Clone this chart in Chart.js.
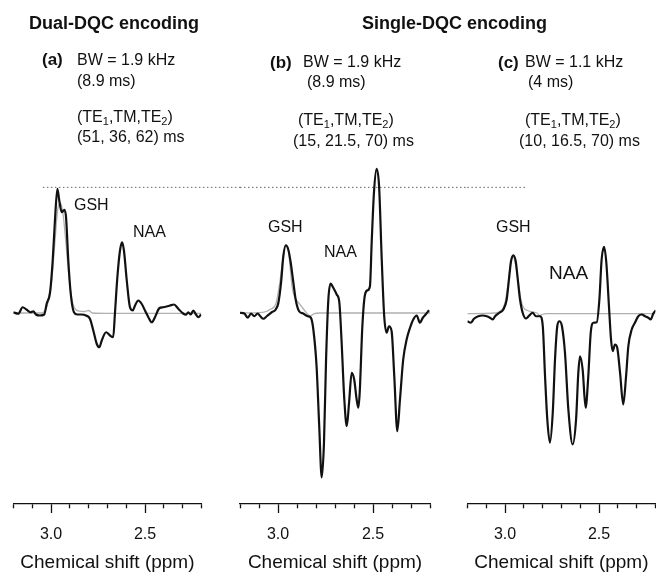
<!DOCTYPE html>
<html>
<head>
<meta charset="utf-8">
<script src="https://cdn.jsdelivr.net/npm/chart.js@4.4.1/dist/chart.umd.min.js"></script>
<style>
  body { margin: 0; background: #fff; }
  #figure { position: relative; width: 656px; height: 574px; overflow: hidden; font-family: 'Liberation Sans', Arial, sans-serif; color: #111; }
  #figure canvas { position: absolute; left: 0; top: 0; }
  .t { position: absolute; font-size: 16px; line-height: 1; white-space: nowrap; }
  .h { font-weight: bold; font-size: 18px; }
  .b { font-weight: bold; font-size: 17px; }
  sub { font-size: 11px; vertical-align: -3px; line-height: 0; }
</style>
</head>
<body>
<div id="figure">
  <canvas id="panelA" width="656" height="574"></canvas>
  <canvas id="panelB" width="656" height="574"></canvas>
  <canvas id="panelC" width="656" height="574"></canvas>

  <div class="t h" style="left:29px;top:14px">Dual-DQC encoding</div>
  <div class="t h" style="left:362px;top:14px">Single-DQC encoding</div>

  <div class="t b" style="left:42px;top:51px">(a)</div>
  <div class="t" style="left:77px;top:52px">BW = 1.9 kHz</div>
  <div class="t" style="left:77px;top:73px">(8.9 ms)</div>
  <div class="t" style="left:77px;top:109px">(TE<sub>1</sub>,TM,TE<sub>2</sub>)</div>
  <div class="t" style="left:77px;top:129px">(51, 36, 62) ms</div>

  <div class="t b" style="left:270px;top:54px">(b)</div>
  <div class="t" style="left:303px;top:54px">BW = 1.9 kHz</div>
  <div class="t" style="left:307px;top:74px">(8.9 ms)</div>
  <div class="t" style="left:298px;top:112px">(TE<sub>1</sub>,TM,TE<sub>2</sub>)</div>
  <div class="t" style="left:293px;top:133px">(15, 21.5, 70) ms</div>

  <div class="t b" style="left:498px;top:54px">(c)</div>
  <div class="t" style="left:525px;top:54px">BW = 1.1 kHz</div>
  <div class="t" style="left:528px;top:74px">(4 ms)</div>
  <div class="t" style="left:525px;top:112px">(TE<sub>1</sub>,TM,TE<sub>2</sub>)</div>
  <div class="t" style="left:519px;top:133px">(10, 16.5, 70) ms</div>

  <div class="t" style="left:74px;top:197px">GSH</div>
  <div class="t" style="left:133px;top:224px">NAA</div>
  <div class="t" style="left:268px;top:219px">GSH</div>
  <div class="t" style="left:324px;top:244px">NAA</div>
  <div class="t" style="left:496px;top:219px">GSH</div>
  <div class="t" style="left:549px;top:263px;font-size:19px">NAA</div>
</div>
<script>
// chemical shift axis (ppm)
const tickPpm = [3.2, 3.1, 3.0, 2.9, 2.8, 2.7, 2.6, 2.5, 2.4, 2.3, 2.2]
const majorTicks = [3.0, 2.5]

// level of the dual-DQC GSH peak, drawn dotted across panels
const referenceLevel = 100.5

// (a) dual-DQC encoding, measured spectrum
const ppmA = [3.201, 3.174, 3.151, 3.129, 3.108, 3.094, 3.080, 3.059, 3.036, 3.023,
  3.005, 2.991, 2.979, 2.966, 2.956, 2.943, 2.929, 2.920, 2.908, 2.895,
  2.878, 2.860, 2.837, 2.814, 2.793, 2.775, 2.757, 2.743, 2.730, 2.707,
  2.686, 2.669, 2.660, 2.647, 2.633, 2.622, 2.612, 2.597, 2.580, 2.565,
  2.553, 2.536, 2.518, 2.500, 2.482, 2.464, 2.447, 2.424, 2.403, 2.385,
  2.367, 2.346, 2.323, 2.299, 2.282, 2.270, 2.257, 2.243, 2.229, 2.216, 2.202]
const signalA = [0.6, -0.6, 4.6, 2.6, 0.6, 1.4, -1.2, -2.0, -1.2, 7.4,
  16.6, 42, 74, 99.4, 90, 80.6, 82.6, 76.6, 42, 15.4,
  0.6, -1.2, -1.2, -2.0, -4.6, -14, -24.6, -27.4, -22, -15.4,
  -18, -19.4, -0.6, 28.6, 50, 56.6, 50, 26, 4.6, 2,
  6, 10, 7.4, 2, -3.4, -7.4, -3.4, 3.8, 4.6, 5.2,
  6, 6.8, 3.4, -0.2, -1.4, 0.6, -1.2, 2, -1.2, -3.4, -1.2]
const fitPpmA = [3.20, 3.05, 3.02, 3.00, 2.98, 2.965, 2.95, 2.935, 2.92, 2.905, 2.89, 2.875, 2.85, 2.82, 2.80, 2.78, 2.70, 2.20]
const fitA = [0, 0, 6, 20, 55, 82, 88, 78, 55, 30, 12, 4, 1.5, 1.2, 2, 0, -0.3, -0.3]
const levelPpmA = [3.043, 1.99]

// (b) single-DQC encoding, BW 1.9 kHz
const ppmB = [3.200, 3.177, 3.159, 3.142, 3.125, 3.107, 3.093, 3.077, 3.059, 3.033,
  3.012, 2.998, 2.984, 2.972, 2.959, 2.946, 2.933, 2.919, 2.907, 2.889,
  2.867, 2.844, 2.827, 2.814, 2.797, 2.783, 2.770, 2.758, 2.747, 2.735,
  2.723, 2.709, 2.691, 2.677, 2.665, 2.651, 2.638, 2.626, 2.612, 2.599,
  2.586, 2.577, 2.570, 2.556, 2.542, 2.528, 2.516, 2.507, 2.495, 2.481,
  2.468, 2.454, 2.441, 2.428, 2.416, 2.402, 2.388, 2.372, 2.358, 2.341,
  2.323, 2.305, 2.288, 2.270, 2.253, 2.238, 2.223, 2.205]
const signalB = [0.2, -0.4, -3.8, -0.4, -2.6, -0.4, -2.6, -4.6, -2.6, 0.6,
  2.8, 8.2, 24.2, 45.4, 54.2, 50.8, 40.2, 24.2, 10.8, 1.4,
  -0.4, -2.6, -3.8, -13.2, -42.6, -90.6, -131.6, -103.8, -37.2, 10.8,
  23.6, 20.2, 14.8, 8.2, -23.8, -69.2, -90.6, -71.8, -47.8, -53.2,
  -69.2, -75.8, -63.8, -10.6, 14.8, 18.2, 21.4, 56.2, 96.2, 115.4,
  101.4, 42.8, -2.6, -15.8, -10.6, -14.6, -50.6, -94.6, -69.2, -37.2,
  -21.2, -11.8, -5.2, -2.0, -7.8, -3.8, -1.2, 2.2]
const fitPpmB = [3.20, 3.08, 3.04, 3.01, 2.99, 2.97, 2.96, 2.945, 2.935, 2.925, 2.91, 2.89, 2.87, 2.85, 2.83, 2.81, 2.78, 2.20]
const fitB = [0, 0.5, 3, 8, 25, 48, 54, 50, 35, 20, 12, 8, 4, 0, -2.5, -0.5, 0, 0]
const levelPpmB = [3.2, 2.0]

// (c) single-DQC encoding, BW 1.1 kHz
const ppmC = [3.200, 3.182, 3.165, 3.142, 3.119, 3.097, 3.080, 3.065, 3.053, 3.030,
  3.009, 2.991, 2.979, 2.968, 2.956, 2.943, 2.932, 2.920, 2.906, 2.888,
  2.871, 2.853, 2.835, 2.814, 2.799, 2.787, 2.775, 2.761, 2.746, 2.734,
  2.722, 2.711, 2.697, 2.681, 2.663, 2.640, 2.622, 2.610, 2.601, 2.587,
  2.571, 2.557, 2.544, 2.530, 2.512, 2.498, 2.486, 2.473, 2.461, 2.447,
  2.436, 2.427, 2.415, 2.403, 2.388, 2.371, 2.356, 2.344, 2.326, 2.309,
  2.291, 2.273, 2.255, 2.238, 2.225, 2.211, 2.197]
const signalC = [-6.6, -7.8, -4.6, -2.6, -2.0, -2.6, -3.8, -5.2, -2.6, 0.2,
  2.8, 10.8, 26.8, 41.4, 46.2, 41.4, 26.8, 10.8, 0.2, -4.4,
  -2.0, 0.2, -2.6, -2.6, -10.6, -50.6, -85.2, -103.8, -79.8, -37.2,
  -10.6, -6.6, -10.6, -31.8, -77.2, -105.2, -85.2, -47.8, -34.6, -45.2,
  -75.8, -50.6, -15.8, -7.8, -7.4, 10.8, 42.8, 53.0, 40.2, 5.4,
  -21.2, -30.6, -25.2, -27.8, -47.8, -73.2, -50.6, -26.6, -13.2, -7.8,
  -2.6, -1.2, -2.6, -3.8, -5.2, -0.4, 2.2]
const fitPpmC = [3.20, 3.05, 3.02, 3.00, 2.985, 2.97, 2.957, 2.945, 2.93, 2.915, 2.90, 2.88, 2.86, 2.83, 2.815, 2.80, 2.78, 2.20]
const fitC = [-0.5, 0, 2, 8, 22, 40, 45, 40, 26, 10, 4, 2, 1, 0, -2, -1, -0.5, -0.5]
const levelPpmC = [3.2, 2.888]

const spectra = (function() {
  const FONT = "'Liberation Sans', Arial, sans-serif"
  const INK = '#111'

  Chart.defaults.font.family = FONT
  Chart.defaults.color = INK

  const isMajor = v => majorTicks.some(m => Math.abs(m - v) < 1e-6)
  const toPoints = (xs, ys) => xs.map((x, i) => ({ x, y: ys[i] }))

  function drawPanel({ id, ppm, signal, fitPpm, fit, levelPpm, left, right }) {
    return new Chart(document.getElementById(id), {
      type: 'line',
      data: {
        datasets: [
          {
            data: toPoints(ppm, signal),
            borderColor: '#111',
            borderWidth: 2.2,
            order: 0
          },
          {
            data: toPoints(fitPpm, fit),
            borderColor: '#b0b0b0',
            borderWidth: 1.3,
            order: 1
          },
          {
            data: toPoints(levelPpm, levelPpm.map(() => referenceLevel)),
            borderColor: '#666',
            borderWidth: 1,
            borderDash: [1.5, 2.5],
            cubicInterpolationMode: 'default',
            tension: 0,
            clip: false,
            order: 2
          }
        ]
      },
      options: {
        responsive: false,
        animation: false,
        events: [],
        layout: { padding: { left, right: 656 - right, top: 163, bottom: 0 } },
        elements: {
          point: { radius: 0 },
          line: { cubicInterpolationMode: 'monotone' }
        },
        plugins: { legend: { display: false }, tooltip: { enabled: false } },
        scales: {
          x: {
            type: 'linear',
            reverse: true,
            min: 2.2,
            max: 3.2,
            afterBuildTicks: axis => {
              axis.ticks = tickPpm.map(value => ({ value }))
            },
            afterFit: axis => {
              axis.height = 70
              axis.paddingLeft = 0
              axis.paddingRight = 0
            },
            grid: {
              drawOnChartArea: false,
              tickLength: 9,
              tickColor: INK,
              tickWidth: 1.3,
              tickBorderDash: c => (c.tick && isMajor(c.tick.value) ? [] : [4, 40])
            },
            border: { color: INK, width: 1.3 },
            ticks: {
              padding: 12,
              color: INK,
              font: { size: 16 },
              maxRotation: 0,
              autoSkip: false,
              callback: v => (isMajor(v) ? v.toFixed(1) : '')
            },
            title: {
              display: true,
              text: 'Chemical shift (ppm)',
              color: INK,
              font: { size: 19 },
              padding: 0
            }
          },
          y: { display: false, min: -152.8, max: 120 }
        }
      }
    })
  }

  return {
    init() {
      drawPanel({ id: 'panelA', ppm: ppmA, signal: signalA, fitPpm: fitPpmA, fit: fitA, levelPpm: levelPpmA, left: 13.4, right: 201.4 })
      drawPanel({ id: 'panelB', ppm: ppmB, signal: signalB, fitPpm: fitPpmB, fit: fitB, levelPpm: levelPpmB, left: 240, right: 430 })
      drawPanel({ id: 'panelC', ppm: ppmC, signal: signalC, fitPpm: fitPpmC, fit: fitC, levelPpm: levelPpmC, left: 467.4, right: 655.4 })
    }
  }
})()

spectra.init()
</script>
</body>
</html>
